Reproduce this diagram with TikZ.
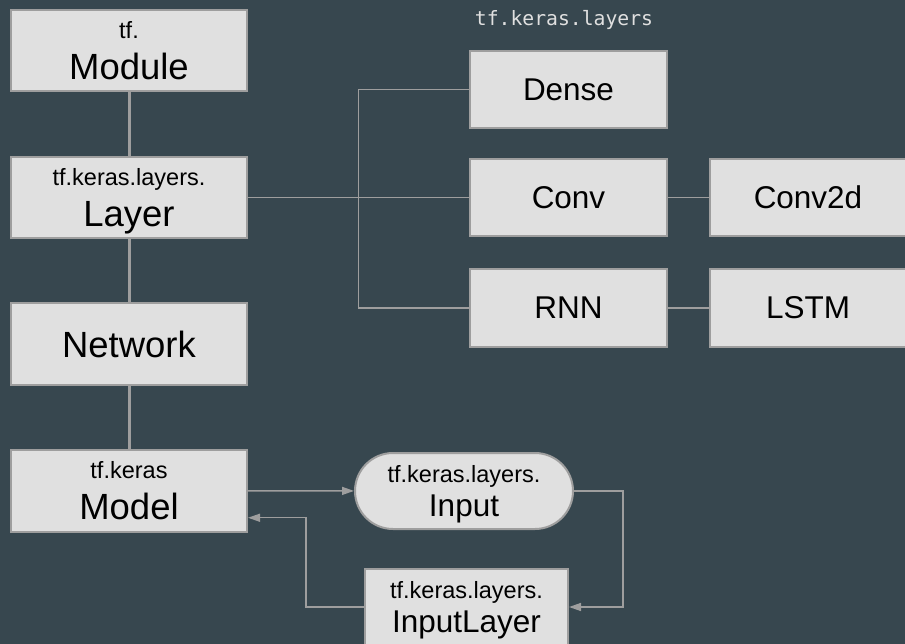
\documentclass[tikz,border=0pt]{standalone}
\usepackage{fontspec}
\setmainfont{Liberation Sans}
\newfontfamily\codefont{DejaVu Sans Mono}
\usetikzlibrary{arrows.meta,calc}
\definecolor{slate}{HTML}{37474F}
\definecolor{boxfill}{HTML}{E0E0E0}
\definecolor{edgegray}{HTML}{9E9E9E}
\newcommand{\smallfont}{\fontsize{23.6}{28}\selectfont}
\newcommand{\keyfont}{\fontsize{36.6}{41.2}\selectfont}
\newcommand{\midfont}{\fontsize{31.6}{34.2}\selectfont}
\newcommand{\twoline}[2]{{\smallfont #1}\\\raisebox{0pt}[\height][0pt]{#2}}
\begin{document}
\begin{tikzpicture}[x=1bp,y=-1bp,
    box/.style={draw=edgegray, line width=2bp, fill=boxfill, inner sep=0pt, align=center},
    leftbox/.style={box, minimum width=236bp, minimum height=81.5bp, font=\keyfont},
    rightbox/.style={box, minimum width=197bp, minimum height=77bp, font=\midfont},
    pill/.style={box, rounded corners=38bp, minimum width=218bp, minimum height=76bp, font=\midfont},
    lowbox/.style={box, minimum width=203bp, minimum height=76bp, font=\midfont},
    trunk/.style={draw=edgegray, line width=3bp},
    branch/.style={draw=edgegray, line width=1.4bp},
    flow/.style={branch, -{Triangle[length=12bp,width=8bp]}}]
  \path[use as bounding box, fill=slate] (0,0) rectangle (905,644);
  \node[anchor=base, text=boxfill, font={\codefont\fontsize{19.8}{22}\selectfont}] (layerstitle) at (564,26) {tf.keras.layers};
  \node[leftbox] (module) at (129,50.5) {\twoline{tf.}{Module}};
  \node[leftbox] (layer) at (129,197.5) {\twoline{tf.keras.layers.}{Layer}};
  \node[leftbox] (network) at (129,344) {Network};
  \node[leftbox] (model) at (129,490.75) {\twoline{tf.keras}{Model}};
  \node[rightbox] (dense) at (568.5,89.5) {Dense};
  \node[rightbox] (conv) at (568.5,197.5) {Conv};
  \node[rightbox] (rnn) at (568.5,308) {RNN};
  \node[rightbox] (conv2d) at (808,197.5) {Conv2d};
  \node[rightbox] (lstm) at (808,308) {LSTM};
  \node[pill] (input) at (464,491) {\twoline{tf.keras.layers.}{Input}};
  \node[lowbox] (inputlayer) at (466.5,607) {\twoline{tf.keras.layers.}{InputLayer}};
  \draw[trunk] (module) -- (layer);
  \draw[trunk] (layer) -- (network);
  \draw[trunk] (network) -- (model);
  \coordinate (split) at ($(layer.east)!0.5!(conv.west)$);
  \draw[branch] (layer) -- (conv);
  \draw[branch] (split) |- (dense);
  \draw[branch] (split) |- (rnn);
  \draw[branch] (conv) -- (conv2d);
  \draw[branch] (rnn) -- (lstm);
  \draw[flow] (model) -- (input);
  \draw[flow] (input.east) -- ++(49,0) |- (inputlayer.east);
  \draw[flow] (inputlayer.west) -- ++(-58,0) |- ($(model.east)+(0,27)$);
\end{tikzpicture}
\end{document}
